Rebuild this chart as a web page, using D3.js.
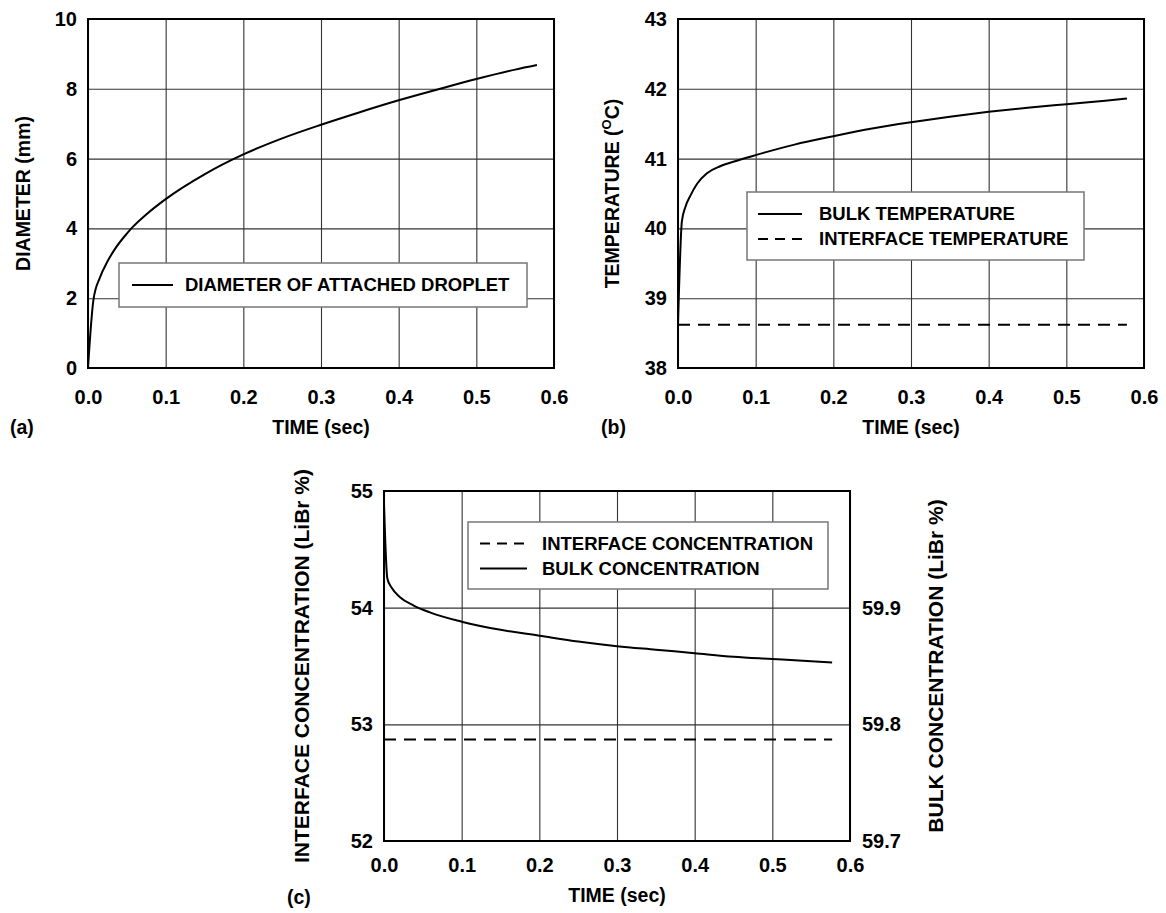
<!DOCTYPE html>
<html>
<head>
<meta charset="utf-8">
<script src="https://cdn.jsdelivr.net/npm/d3@7"></script>
<style>
  body { margin: 0; background: #fff; }
  text { font-family: "Liberation Sans", Arial, sans-serif; font-weight: bold; fill: #000; }
</style>
</head>
<body>
<script>
// ---- data ----
var timeTicks = [0, 0.1, 0.2, 0.3, 0.4, 0.5, 0.6];

// (a) droplet diameter
var diamTime   = [0, 0.007, 0.0155, 0.025, 0.035, 0.05, 0.058, 0.075, 0.1, 0.15, 0.2, 0.25, 0.3, 0.35, 0.4, 0.45, 0.5, 0.55, 0.578];
var diamValues = [0, 1.95, 2.6, 3.05, 3.42, 3.85, 4.05, 4.4, 4.84, 5.55, 6.12, 6.58, 6.97, 7.33, 7.67, 7.98, 8.28, 8.55, 8.68];
var diamTicks  = [0, 2, 4, 6, 8, 10];

// (b) temperatures
var bulkTempTime   = [0, 0.005, 0.0096, 0.016, 0.0246, 0.0373, 0.0543, 0.0757, 0.1, 0.15, 0.2, 0.25, 0.3, 0.35, 0.4, 0.45, 0.5, 0.55, 0.578];
var bulkTempValues = [38.62, 40.1, 40.31, 40.47, 40.64, 40.79, 40.89, 40.97, 41.05, 41.2, 41.32, 41.43, 41.52, 41.6, 41.67, 41.73, 41.78, 41.83, 41.86];
var ifaceTempTime   = [0, 0.578];
var ifaceTempValues = [38.62, 38.62];
var tempTicks = [38, 39, 40, 41, 42, 43];

// (c) concentrations (bulk on the right axis)
var bulkConcTime   = [0, 0.0043, 0.0099, 0.0206, 0.0377, 0.059, 0.1, 0.15, 0.2, 0.25, 0.3, 0.35, 0.4, 0.45, 0.5, 0.55, 0.577];
var bulkConcValues = [59.989, 59.925, 59.917, 59.909, 59.902, 59.896, 59.888, 59.881, 59.876, 59.871, 59.867, 59.864, 59.861, 59.858, 59.856, 59.854, 59.853];
var ifaceConcTime   = [0, 0.577];
var ifaceConcValues = [52.87, 52.87];
var concLeftTicks  = [52, 53, 54, 55];
var concRightTicks = [59.7, 59.8, 59.9];

var svg = d3.select("body").append("svg")
    .attr("width", 1166)
    .attr("height", 913);

function makePanel(p) {
    var g = svg.append("g").attr("transform", "translate(" + p.left + "," + p.top + ")");
    var x = d3.scaleLinear().domain([0, 0.6]).range([0, p.width]);
    var y = d3.scaleLinear().domain(p.yDomain).range([p.height, 0]);

    // grid + tick labels
    var xa = g.append("g").attr("transform", "translate(0," + p.height + ")")
        .call(d3.axisBottom(x).tickValues(timeTicks).tickFormat(d3.format(".1f"))
            .tickSizeInner(-p.height).tickSizeOuter(0).tickPadding(p.xPad));
    var ya = g.append("g")
        .call(d3.axisLeft(y).tickValues(p.yTicks).tickFormat(d3.format("d"))
            .tickSizeInner(-p.width).tickSizeOuter(0).tickPadding(11));
    [xa, ya].forEach(function(a) {
        a.select(".domain").remove();
        a.selectAll("line").attr("stroke", "#333").attr("stroke-width", 1.1);
        a.selectAll("text").style("font-size", "20px").attr("fill", "#000");
    });

    g.append("rect").attr("width", p.width).attr("height", p.height)
        .attr("fill", "none").attr("stroke", "#000").attr("stroke-width", 2);

    return { g: g, x: x, y: y };
}

function drawLine(panel, yScale, xs, ys, dash) {
    var pts = xs.map(function(t, i) { return [t, ys[i]]; });
    var line = d3.line()
        .x(function(d) { return panel.x(d[0]); })
        .y(function(d) { return yScale(d[1]); })
        .curve(d3.curveMonotoneX);
    panel.g.append("path").attr("d", line(pts))
        .attr("fill", "none").attr("stroke", "#000").attr("stroke-width", 2)
        .attr("stroke-dasharray", dash ? "12,8" : null);
}

function legend(x0, y0, w, h, rows) {
    svg.append("rect").attr("x", x0).attr("y", y0).attr("width", w).attr("height", h)
        .attr("fill", "#fff").attr("stroke", "#777").attr("stroke-width", 1.5);
    rows.forEach(function(r) {
        svg.append("line").attr("x1", r.lx1).attr("x2", r.lx2).attr("y1", r.y).attr("y2", r.y)
            .attr("stroke", "#000").attr("stroke-width", 2)
            .attr("stroke-dasharray", r.dash ? "10,7" : null);
        svg.append("text").attr("x", r.tx).attr("y", r.y).attr("dy", "0.35em")
            .style("font-size", "18.5px").text(r.label);
    });
}

function label(x, y, txt, rot, size) {
    return svg.append("text").attr("text-anchor", "middle")
        .attr("transform", "translate(" + x + "," + y + ")" + (rot ? " rotate(-90)" : ""))
        .style("font-size", (size || 19.5) + "px")
        .text(txt);
}

// ---- (a) ----
var pa = makePanel({ left: 88, top: 19, width: 466, height: 349, yDomain: [0, 10], yTicks: diamTicks, xPad: 22 });
legend(119, 263, 408, 44, [{ lx1: 132, lx2: 173, y: 285, tx: 185, label: "DIAMETER OF ATTACHED DROPLET" }]);
drawLine(pa, pa.y, diamTime, diamValues, false);
label(321, 434, "TIME (sec)");
label(30, 193.5, "DIAMETER (mm)", true);
svg.append("text").attr("x", 10).attr("y", 434).style("font-size", "19.5px").text("(a)");

// ---- (b) ----
var pb = makePanel({ left: 678, top: 19, width: 466, height: 349, yDomain: [38, 43], yTicks: tempTicks, xPad: 22 });
drawLine(pb, pb.y, ifaceTempTime, ifaceTempValues, true);
legend(747, 192, 337, 68, [
    { lx1: 758, lx2: 802, y: 214, tx: 819, label: "BULK TEMPERATURE" },
    { lx1: 758, lx2: 802, y: 239, tx: 819, label: "INTERFACE TEMPERATURE", dash: true }
]);
drawLine(pb, pb.y, bulkTempTime, bulkTempValues, false);
label(911, 434, "TIME (sec)");
var tl = label(619, 193.5, "", true);
tl.append("tspan").text("TEMPERATURE (");
tl.append("tspan").attr("dy", -8).style("font-size", "13px").text("O");
tl.append("tspan").attr("dy", 8).text("C)");
svg.append("text").attr("x", 601).attr("y", 434).style("font-size", "19.5px").text("(b)");

// ---- (c) ----
var pc = makePanel({ left: 384, top: 491, width: 466, height: 350, yDomain: [52, 55], yTicks: concLeftTicks, xPad: 17 });
var yRight = d3.scaleLinear().domain([59.7, 60.0]).range([350, 0]);
var ra = pc.g.append("g").attr("transform", "translate(466,0)")
    .call(d3.axisRight(yRight).tickValues(concRightTicks).tickFormat(d3.format(".1f"))
        .tickSize(0).tickPadding(12));
ra.select(".domain").remove();
ra.selectAll("text").style("font-size", "20px");
legend(468, 522, 360, 67, [
    { lx1: 480, lx2: 527, y: 543.5, tx: 542, label: "INTERFACE CONCENTRATION", dash: true },
    { lx1: 480, lx2: 527, y: 568.5, tx: 542, label: "BULK CONCENTRATION" }
]);
drawLine(pc, pc.y, ifaceConcTime, ifaceConcValues, true);
drawLine(pc, yRight, bulkConcTime, bulkConcValues, false);
label(617, 902, "TIME (sec)");
label(309, 666, "INTERFACE CONCENTRATION (LiBr %)", true, 21);
label(943, 666, "BULK CONCENTRATION (LiBr %)", true, 21);
svg.append("text").attr("x", 287).attr("y", 904).style("font-size", "19.5px").text("(c)");
</script>
</body>
</html>
